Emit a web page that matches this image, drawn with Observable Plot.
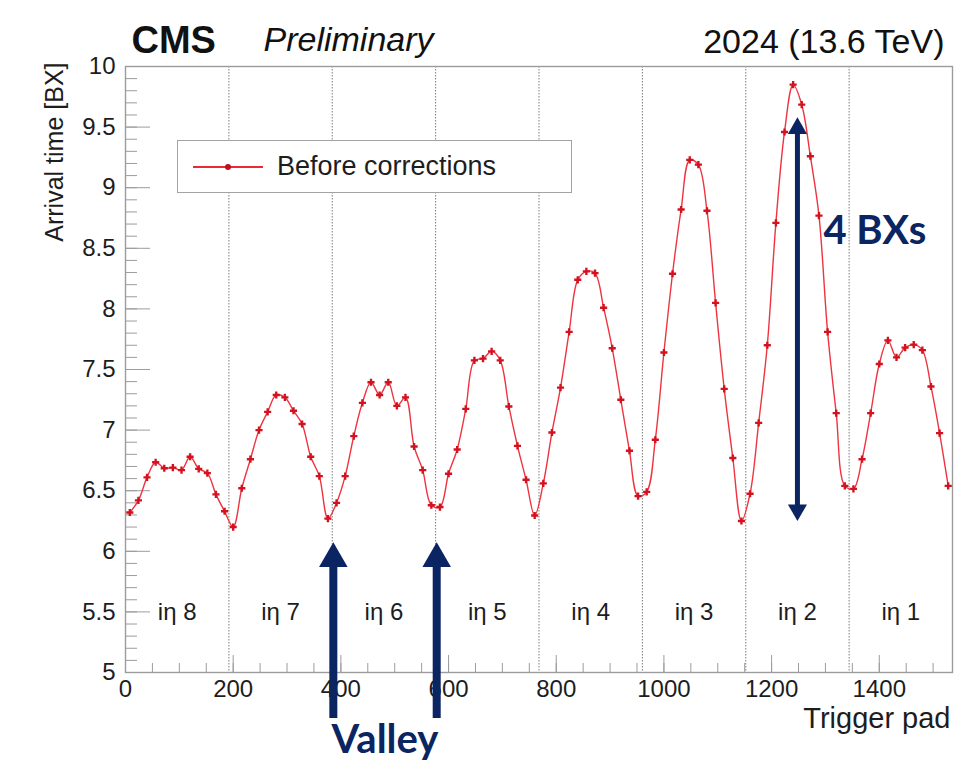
<!DOCTYPE html>
<html>
<head>
<meta charset="utf-8">
<script src="https://cdn.jsdelivr.net/npm/d3@7"></script>
<script src="https://cdn.jsdelivr.net/npm/@observablehq/plot@0.6"></script>
<style>
  body { margin: 0; background: #fff; }
  #wrap { position: relative; width: 971px; height: 764px; }
  #legend {
    position: absolute; left: 177px; top: 140px; width: 395px; height: 53px;
    box-sizing: border-box; border: 1.5px solid #a3a3a3; background: #fff;
    font-family: "Liberation Sans", Arial, sans-serif; font-size: 27px; color: #1d1d1d;
  }
  #legend svg { position: absolute; left: 15px; top: 0; }
  #legend span { position: absolute; left: 99px; top: 50%; transform: translateY(-52%); white-space: nowrap; }
</style>
</head>
<body>
<div id="wrap">
  <div id="chart"></div>
  <div id="legend">
    <svg width="72" height="50"><line x1="0" x2="70" y1="26" y2="26" stroke="#ec2a36" stroke-width="2"/><circle cx="35" cy="26" r="3" fill="#c0101c"/></svg>
    <span>Before corrections</span>
  </div>
</div>
<script>
// Trigger pad bin centres (16-pad bins across 1536 pads)
const pads = [
  8, 24, 40, 56, 72, 88, 104, 120, 136, 152, 168, 184,
  200, 216, 232, 248, 264, 280, 296, 312, 328, 344, 360, 376,
  392, 408, 424, 440, 456, 472, 488, 504, 520, 536, 552, 568,
  584, 600, 616, 632, 648, 664, 680, 696, 712, 728, 744, 760,
  776, 792, 808, 824, 840, 856, 872, 888, 904, 920, 936, 952,
  968, 984, 1000, 1016, 1032, 1048, 1064, 1080, 1096, 1112, 1128, 1144,
  1160, 1176, 1192, 1208, 1224, 1240, 1256, 1272, 1288, 1304, 1320, 1336,
  1352, 1368, 1384, 1400, 1416, 1432, 1448, 1464, 1480, 1496, 1512, 1528
];

// Mean arrival time [BX] per bin, before corrections
const arrival = [
  6.32, 6.42, 6.61, 6.735, 6.685, 6.69, 6.67, 6.78, 6.68, 6.645, 6.47, 6.33,
  6.20, 6.52, 6.76, 7.00, 7.15, 7.29, 7.27, 7.16, 7.05, 6.78, 6.62, 6.27,
  6.40, 6.62, 6.95, 7.225, 7.395, 7.29, 7.395, 7.20, 7.27, 6.865, 6.67, 6.38,
  6.365, 6.64, 6.84, 7.175, 7.575, 7.59, 7.65, 7.575, 7.195, 6.87, 6.59, 6.295,
  6.56, 6.98, 7.35, 7.81, 8.24, 8.31, 8.295, 8.01, 7.675, 7.25, 6.83, 6.455,
  6.49, 6.92, 7.64, 8.29, 8.82, 9.23, 9.19, 8.81, 8.05, 7.34, 6.77, 6.25,
  6.475, 7.06, 7.70, 8.71, 9.46, 9.85, 9.685, 9.26, 8.77, 7.81, 7.14, 6.54,
  6.515, 6.76, 7.14, 7.545, 7.74, 7.60, 7.68, 7.705, 7.66, 7.36, 6.975, 6.54
];

// iη partitions
const etaEdges = [192, 384, 576, 768, 960, 1152, 1344];
const etaCenters = [96, 288, 480, 672, 864, 1056, 1248, 1440];
const etaNames = ["iη 8", "iη 7", "iη 6", "iη 5", "iη 4", "iη 3", "iη 2", "iη 1"];

// Axis ticks
const xMajor = [0, 200, 400, 600, 800, 1000, 1200, 1400];
const xMinor = d3.range(0, 1536, 50);
const yMajor = [5, 5.5, 6, 6.5, 7, 7.5, 8, 8.5, 9, 9.5, 10];
const yMinor = d3.range(50, 101).map(v => v / 10);

// Annotations: valleys at partition boundaries, and the 4 BX spread in iη 2
const valleyPads = [386, 578];
const spreadPad = [1248];
const spreadLow = 6.25;
const spreadHigh = 9.58;

const table = pads.map((p, i) => ({pad: p, t: arrival[i]}));
const etaTable = etaNames.map((n, i) => ({name: n, center: etaCenters[i]}));

const red = "#ee3440";
const markerRed = "#d3121f";
const navy = "#0b2462";
const grey = "#9c9c9c";
const ink = "#1d1d1d";
const sans = "'Liberation Sans', Arial, Helvetica, sans-serif";
const bold = "Lato, 'Open Sans', sans-serif";

const chart = Plot.plot({
  width: 971,
  height: 764,
  marginLeft: 125,
  marginRight: 19,
  marginTop: 66,
  marginBottom: 92,
  style: {fontFamily: sans, background: "white", color: ink},
  x: {domain: [0, 1536]},
  y: {domain: [5, 10]},
  marks: [
    // partition separators
    Plot.ruleX(etaEdges, {stroke: "#7c7c7c", strokeWidth: 1, strokeDasharray: "1.5,1.5"}),

    // inward ticks, ROOT style
    Plot.axisY({ticks: yMinor, tickSize: -12, stroke: grey, fill: "none", label: null}),
    Plot.axisY({ticks: yMajor, tickSize: -25, stroke: grey, fill: "none", label: null}),
    Plot.axisY({ticks: yMajor, tickSize: 0, tickPadding: 10, fontSize: 24, fill: ink, label: null, tickFormat: d => String(d)}),
    Plot.axisX({ticks: xMinor, tickSize: -9, stroke: grey, fill: "none", label: null}),
    Plot.axisX({ticks: xMajor, tickSize: -17, stroke: grey, fill: "none", label: null}),
    Plot.axisX({ticks: xMajor, tickSize: 0, tickPadding: 7, fontSize: 24, fill: ink, label: null, tickFormat: d => String(d)}),
    Plot.frame({stroke: grey, strokeWidth: 1.4}),

    // partition labels
    Plot.text(etaTable, {x: "center", y: 5.5, text: "name", fontSize: 24, fill: ink}),

    // arrival time curve
    Plot.line(table, {x: "pad", y: "t", stroke: red, strokeWidth: 1.4, curve: "catmull-rom"}),
    Plot.dot(table, {x: "pad", y: "t", symbol: "cross", r: 3, fill: markerRed, stroke: "none"}),

    // valley arrows
    Plot.ruleX(valleyPads, {y1: 4.62, y2: 5.93, stroke: navy, strokeWidth: 8}),
    Plot.dot(valleyPads, {x: d => d, y: 6.07, symbol: "triangle", r: 10.6, fill: navy, stroke: "none", dy: 16}),
    Plot.text(["Valley"], {x: () => d3.mean(valleyPads), frameAnchor: "bottom", dy: 80, fontSize: 40, fontWeight: "bold", fontFamily: bold, fill: navy}),

    // 4 BX spread arrow
    Plot.ruleX(spreadPad, {y1: spreadLow + 0.07, y2: spreadHigh - 0.07, stroke: navy, strokeWidth: 5}),
    Plot.dot(spreadPad, {x: d => d, y: spreadHigh, symbol: "triangle", r: 7.1, fill: navy, stroke: "none", dy: 11}),
    Plot.dot(spreadPad, {x: d => d, y: spreadLow, symbol: "triangle", rotate: 180, r: 7.1, fill: navy, stroke: "none", dy: -11}),
    Plot.text(["4 BXs"], {x: () => spreadPad[0], frameAnchor: "top", dx: 26, dy: 149, textAnchor: "start", fontSize: 40, fontWeight: "bold", fontFamily: bold, fill: navy}),

    // titles
    Plot.text(["CMS"], {frameAnchor: "top-left", dx: 6, dy: -40, textAnchor: "start", fontSize: 38, fontWeight: "bold", fill: "#111"}),
    Plot.text(["Preliminary"], {frameAnchor: "top-left", dx: 138, dy: -40, textAnchor: "start", fontSize: 34, fontStyle: "italic", fill: "#111"}),
    Plot.text(["2024 (13.6 TeV)"], {frameAnchor: "top-right", dx: -8, dy: -38, textAnchor: "end", fontSize: 34, fill: "#111"}),

    // axis titles
    Plot.text(["Arrival time [BX]"], {frameAnchor: "top-left", dx: -80, dy: -4, rotate: -90, textAnchor: "end", fontSize: 25, fill: ink}),
    Plot.text(["Trigger pad"], {frameAnchor: "bottom-right", dx: -2, dy: 55, textAnchor: "end", fontSize: 29, fill: ink})
  ]
});

document.getElementById("chart").appendChild(chart);
</script>
</body>
</html>
